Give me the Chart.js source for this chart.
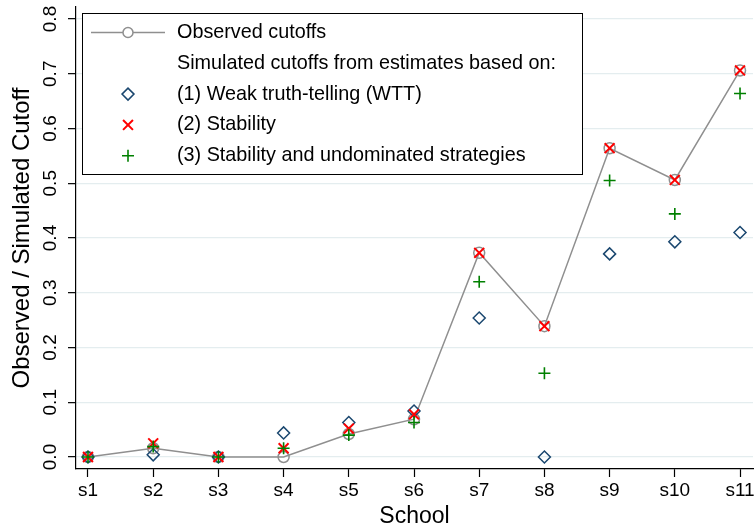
<!DOCTYPE html>
<html>
<head>
<meta charset="utf-8">
<script src="https://cdn.jsdelivr.net/npm/chart.js@4.4.1/dist/chart.umd.min.js"></script>
<style>
  html, body { margin: 0; padding: 0; background: #fff; }
</style>
</head>
<body>
<canvas id="cutoffChart" width="755" height="528"></canvas>
<script>
const schools = ['s1', 's2', 's3', 's4', 's5', 's6', 's7', 's8', 's9', 's10', 's11'];
const observed = [0, 0.016, 0, 0, 0.042, 0.069, 0.373, 0.239, 0.564, 0.506, 0.706];
const wtt = [0, 0.004, 0, 0.044, 0.063, 0.084, 0.254, 0, 0.371, 0.393, 0.410];
const stability = [0, 0.025, 0, 0.016, 0.052, 0.078, 0.373, 0.239, 0.564, 0.506, 0.706];
const stabUndom = [0, 0.019, 0, 0.016, 0.040, 0.063, 0.320, 0.153, 0.505, 0.444, 0.664];
const yTicks = [0, 0.1, 0.2, 0.3, 0.4, 0.5, 0.6, 0.7, 0.8];
const legendNote = 'Simulated cutoffs from estimates based on:';

const FONT = '"Liberation Sans", Arial, sans-serif';

const toPoints = (vals) => vals.map((v, i) => ({ x: i + 1, y: v }));

// Stata-style legend box sitting inside the plot region
const boxLegend = {
    id: 'boxLegend',
    afterDraw(chart) {
        const ctx = chart.ctx;
        const ds = chart.data.datasets;
        const rows = [ds[0], { label: legendNote }, ds[1], ds[2], ds[3]];

        ctx.save();
        ctx.fillStyle = '#fff';
        ctx.fillRect(82, 13, 500, 161);
        ctx.strokeStyle = '#000';
        ctx.lineWidth = 1;
        ctx.strokeRect(82.5, 13.5, 500, 161);

        rows.forEach((row, i) => {
            const y = 32.5 + i * 30.8;
            if (row.showLine) {
                ctx.strokeStyle = row.borderColor;
                ctx.lineWidth = row.borderWidth;
                ctx.beginPath();
                ctx.moveTo(91, y);
                ctx.lineTo(165, y);
                ctx.stroke();
            }
            if (row.pointStyle) {
                ctx.strokeStyle = row.pointBorderColor;
                ctx.fillStyle = '#fff';
                ctx.lineWidth = row.pointBorderWidth;
                Chart.helpers.drawPoint(ctx, {
                    pointStyle: row.pointStyle,
                    radius: row.showLine ? 5 : row.pointRadius,
                    rotation: 0,
                    borderWidth: row.pointBorderWidth
                }, 128, y);
            }
            ctx.fillStyle = '#000';
            ctx.font = '19.8px ' + FONT;
            ctx.textBaseline = 'middle';
            ctx.textAlign = 'left';
            ctx.fillText(row.label, 177, y);
        });
        ctx.restore();
    }
};

const ctx = document.getElementById('cutoffChart').getContext('2d');

new Chart(ctx, {
    type: 'scatter',
    data: {
        datasets: [
            {
                label: 'Observed cutoffs',
                data: toPoints(observed),
                showLine: true,
                borderColor: '#8f8f8f',
                borderWidth: 1.5,
                pointStyle: 'circle',
                pointRadius: 5.5,
                pointBorderColor: '#8f8f8f',
                pointBackgroundColor: 'rgba(0,0,0,0)',
                pointBorderWidth: 1.5,
                order: 4
            },
            {
                label: '(1) Weak truth-telling (WTT)',
                data: toPoints(wtt),
                showLine: false,
                pointStyle: 'rectRot',
                pointRadius: 6,
                pointBorderColor: '#1a476f',
                pointBackgroundColor: 'rgba(0,0,0,0)',
                pointBorderWidth: 1.5,
                order: 3
            },
            {
                label: '(2) Stability',
                data: toPoints(stability),
                showLine: false,
                pointStyle: 'crossRot',
                pointRadius: 7,
                pointBorderColor: '#ff0000',
                pointBorderWidth: 2,
                order: 2
            },
            {
                label: '(3) Stability and undominated strategies',
                data: toPoints(stabUndom),
                showLine: false,
                pointStyle: 'cross',
                pointRadius: 6,
                pointBorderColor: '#008000',
                pointBorderWidth: 1.6,
                order: 1
            }
        ]
    },
    options: {
        responsive: false,
        animation: false,
        // no auto padding, the plot runs right up to the canvas edge like the original
        layout: { autoPadding: false, padding: { top: 7, right: 2, left: 0, bottom: 0 } },
        plugins: {
            legend: { display: false },
            tooltip: { enabled: false }
        },
        scales: {
            x: {
                type: 'linear',
                min: 0.816,
                max: 11.199,
                afterBuildTicks: (s) => { s.ticks = schools.map((_, i) => ({ value: i + 1 })); },
                afterFit: (s) => { s.height = 59; s.paddingLeft = 0; s.paddingRight = 0; },
                ticks: {
                    autoSkip: false,
                    maxRotation: 0,
                    padding: 2,
                    color: '#000',
                    font: { family: FONT, size: 19 },
                    callback: (v) => schools[v - 1]
                },
                grid: { drawOnChartArea: false, tickLength: 8, tickColor: '#000', tickWidth: 1.2 },
                border: { color: '#000', width: 1.2 },
                title: {
                    display: true,
                    text: 'School',
                    color: '#000',
                    font: { family: FONT, size: 23, lineHeight: 1 },
                    padding: 0
                }
            },
            y: {
                min: -0.0219,
                max: 0.8219,
                afterBuildTicks: (s) => { s.ticks = yTicks.map((v) => ({ value: v })); },
                afterFit: (s) => { s.width = 76; s.paddingTop = 0; s.paddingBottom = 0; },
                ticks: {
                    minRotation: 90,
                    maxRotation: 90,
                    crossAlign: 'center',
                    padding: 4,
                    color: '#000',
                    font: { family: FONT, size: 19 },
                    callback: (v) => v.toFixed(1)
                },
                grid: { color: '#e4edef', lineWidth: 1.3, tickLength: 8, tickColor: '#000', tickWidth: 1.2 },
                border: { color: '#000', width: 1.2 },
                title: {
                    display: true,
                    text: 'Observed / Simulated Cutoff',
                    color: '#000',
                    font: { family: FONT, size: 24, lineHeight: 1 },
                    padding: { top: 10.5, bottom: 0 }
                }
            }
        }
    },
    plugins: [boxLegend]
});
</script>
</body>
</html>
